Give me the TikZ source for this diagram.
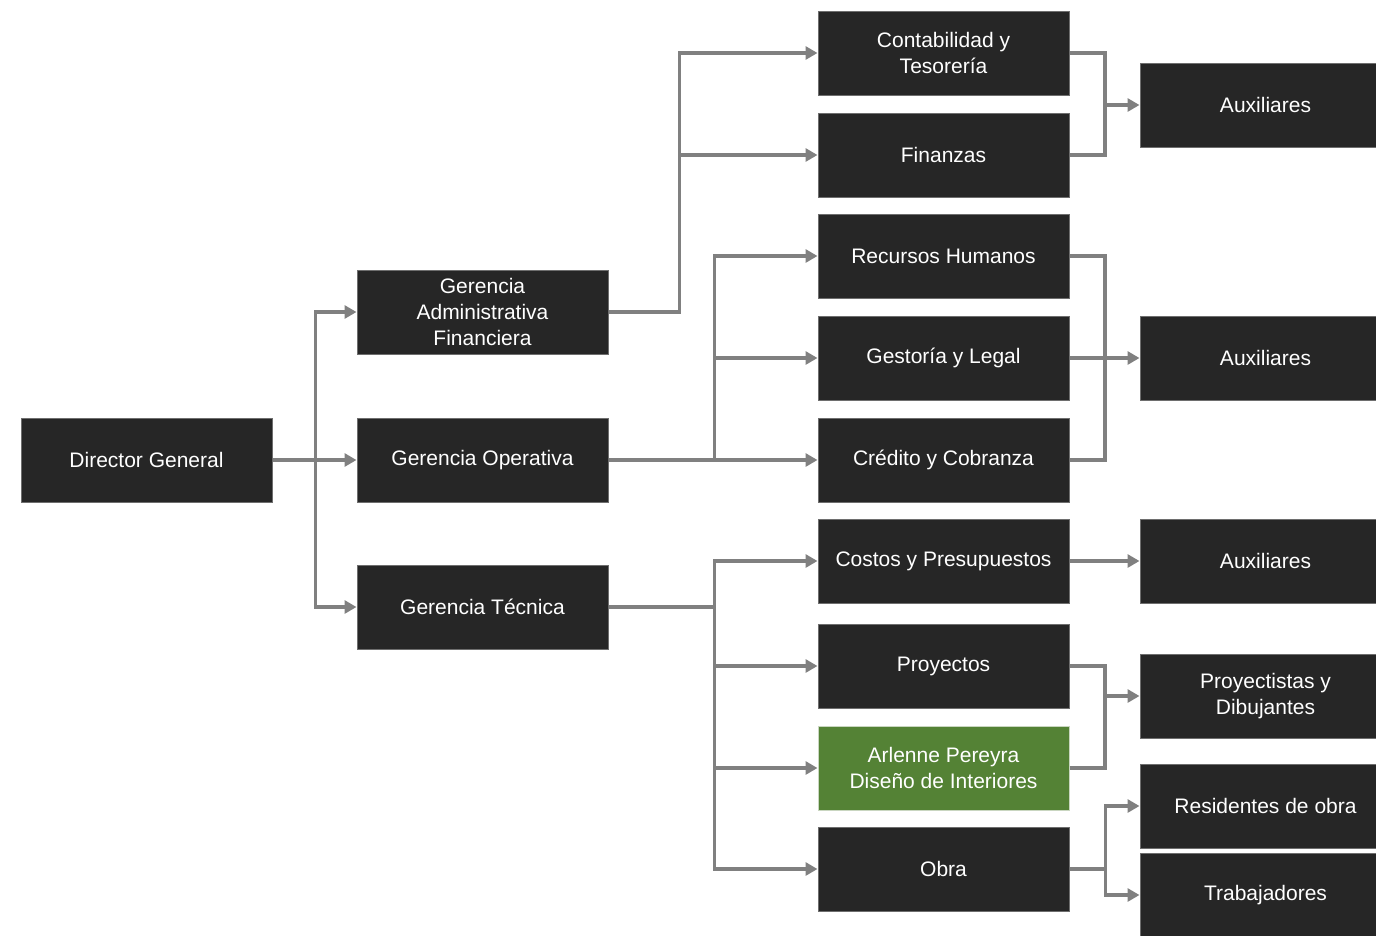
\documentclass[tikz,border=0pt]{standalone}
\usepackage{fontspec}
\setmainfont{Liberation Sans}
\usetikzlibrary{arrows.meta}
\definecolor{boxfill}{HTML}{262626}
\definecolor{boxline}{HTML}{6E6E6E}
\definecolor{greenfill}{HTML}{548235}
\definecolor{greenline}{HTML}{C9D6C0}
\definecolor{linegray}{HTML}{808080}
\begin{document}
\begin{tikzpicture}[x=1pt,y=-1pt,
  box/.style={draw=boxline,line width=1pt,fill=boxfill,text=white,minimum width=251pt,minimum height=84pt,inner sep=0pt,align=center,font=\fontsize{21}{26}\selectfont},
  greenbox/.style={box,fill=greenfill,draw=greenline},
  conn/.style={draw=linegray,line width=3.8pt},
  arr/.style={conn,-{Triangle[length=12pt,width=13pt]}}]
\useasboundingbox (0,0) rectangle (1376,935);
% column 1
\node[box] (dg) at (146.5,460) {Director General};
% column 2
\node[box] (gaf) at (482.5,312) {Gerencia\\Administrativa\\Financiera};
\node[box] (go) at (482.5,460) {Gerencia Operativa};
\node[box] (gt) at (482.5,607) {Gerencia Técnica};
% column 3
\node[box] (cont) at (943.5,53) {Contabilidad y\\Tesorería};
\node[box] (fin) at (943.5,155) {Finanzas};
\node[box] (rh) at (943.5,256) {Recursos Humanos};
\node[box] (gest) at (943.5,358) {Gestoría y Legal};
\node[box] (cred) at (943.5,460) {Crédito y Cobranza};
\node[box] (cost) at (943.5,561) {Costos y Presupuestos};
\node[box] (proy) at (943.5,666) {Proyectos};
\node[greenbox] (arl) at (943.5,768) {Arlenne Pereyra\\Diseño de Interiores};
\node[box] (obra) at (943.5,869) {Obra};
% column 4
\node[box] (aux1) at (1265.5,105) {Auxiliares};
\node[box] (aux2) at (1265.5,358) {Auxiliares};
\node[box] (aux3) at (1265.5,561) {Auxiliares};
\node[box] (pd) at (1265.5,696) {Proyectistas y\\Dibujantes};
\node[box] (res) at (1265.5,806) {Residentes de obra};
\node[box] (trab) at (1265.5,895) {Trabajadores};
% connectors from director
\draw[arr] (dg.east) -- ++(43,0) |- (gaf.west);
\draw[arr] (dg.east) -- (go.west);
\draw[arr] (dg.east) -- ++(43,0) |- (gt.west);
% gerencia administrativa
\draw[arr] (gaf.east) -- ++(71,0) |- (cont.west);
\draw[arr] (gaf.east) -- ++(71,0) |- (fin.west);
% gerencia operativa
\draw[arr] (go.east) -- (cred.west);
\draw[arr] (go.east) -- ++(106,0) |- (rh.west);
\draw[arr] (go.east) -- ++(106,0) |- (gest.west);
% gerencia tecnica
\draw[arr] (gt.east) -- ++(106,0) |- (cost.west);
\draw[arr] (gt.east) -- ++(106,0) |- (proy.west);
\draw[arr] (gt.east) -- ++(106,0) |- (arl.west);
\draw[arr] (gt.east) -- ++(106,0) |- (obra.west);
% to auxiliaries
\coordinate (m1) at (1105,105);
\draw[conn] (cont.east) -| (m1);
\draw[conn] (fin.east) -| (m1);
\draw[arr] (m1) -- (aux1.west);
\coordinate (m2) at (1105,358);
\draw[conn] (rh.east) -| (m2);
\draw[conn] (cred.east) -| (m2);
\draw[arr] (gest.east) -- (aux2.west);
\draw[arr] (cost.east) -- (aux3.west);
\coordinate (m3) at (1105,696);
\draw[conn] (proy.east) -| (m3);
\draw[conn] (arl.east) -| (m3);
\draw[arr] (m3) -- (pd.west);
\draw[arr] (obra.east) -- ++(36,0) |- (res.west);
\draw[arr] (obra.east) -- ++(36,0) |- (trab.west);
\end{tikzpicture}
\end{document}
